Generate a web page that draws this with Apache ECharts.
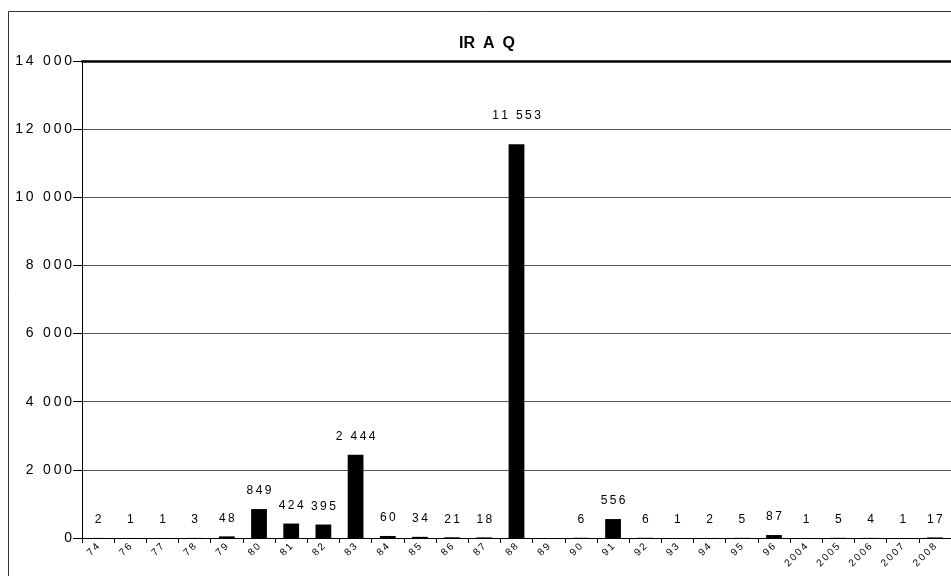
<!DOCTYPE html>
<html>
<head>
<meta charset="utf-8">
<script src="https://cdn.jsdelivr.net/npm/echarts@6/dist/echarts.min.js"></script>
<style>
html,body{margin:0;padding:0;background:#fff;}
#c{width:951px;height:576px;}
</style>
</head>
<body>
<div id="c"></div>
<script>
var categories = ['74','76','77','78','79','80','81','82','83','84','85','86','87','88','89','90','91','92','93','94','95','96','2004','2005','2006','2007','2008'];
var values = [2,1,1,3,48,849,424,395,2444,60,34,21,18,11553,null,6,556,6,1,2,5,87,1,5,4,1,17];
var yTicks = [0,2000,4000,6000,8000,10000,12000,14000];

function fmt(v){
  return String(v).replace(/\B(?=(\d{3})+(?!\d))/g,' ');
}
function spaced(s){
  return s.split('').join('\u2009');
}

var maxVal = Math.max.apply(null, values.filter(function(v){return v!=null;}));
var seriesData = values.map(function(v){
  if (v === maxVal) return {value:v, label:{distance:23}};
  return v;
});

var chart = echarts.init(document.getElementById('c'));
chart.setOption({
  animation:false,
  backgroundColor:'#fff',
  title:{
    text:'IR\u2002A\u2002Q',
    left:482, top:31, textAlign:'center',
    textStyle:{fontFamily:'Liberation Sans, Arial',fontSize:16,fontWeight:'bold',color:'#000'}
  },
  graphic:[{
    type:'rect',
    shape:{x:8.5,y:11.5,width:960,height:600},
    style:{fill:'none',stroke:'#333',lineWidth:1},
    silent:true, z:-1
  }],
  grid:{left:82, top:61, width:870, height:477, containLabel:false},
  xAxis:[{
    type:'category',
    data:categories,
    position:'bottom',
    axisLine:{lineStyle:{color:'#000',width:1}},
    axisTick:{show:true,alignWithLabel:false,length:5,lineStyle:{color:'#000'}},
    axisLabel:{interval:0,rotate:45,fontSize:10,color:'#000',margin:7,fontFamily:'Liberation Sans, Arial',
      formatter:function(v){return spaced(v);}},
    splitLine:{show:false}
  },{
    type:'category',
    data:categories,
    position:'top',
    axisLine:{lineStyle:{color:'#000',width:2.5}},
    axisTick:{show:false},
    axisLabel:{show:false}
  }],
  yAxis:{
    type:'value',
    min:yTicks[0], max:yTicks[yTicks.length-1], interval:yTicks[1]-yTicks[0],
    axisLine:{show:true,lineStyle:{color:'#000'}},
    axisTick:{show:true,length:9,lineStyle:{color:'#000'}},
    axisLabel:{
      color:'#000',fontSize:14,margin:10,fontFamily:'Liberation Sans, Arial',
      formatter:function(v){return spaced(fmt(v));}
    },
    splitLine:{show:true,lineStyle:{color:'#555',width:1}}
  },
  series:[{
    type:'bar',
    data:seriesData,
    xAxisIndex:0,
    barWidth:'49%',
    itemStyle:{color:'#000'},
    label:{
      show:true,position:'top',distance:12,
      fontSize:12,color:'#000',fontFamily:'Liberation Sans, Arial',
      formatter:function(p){return p.value==null?'':spaced(fmt(p.value));}
    }
  }]
});
</script>
</body>
</html>
